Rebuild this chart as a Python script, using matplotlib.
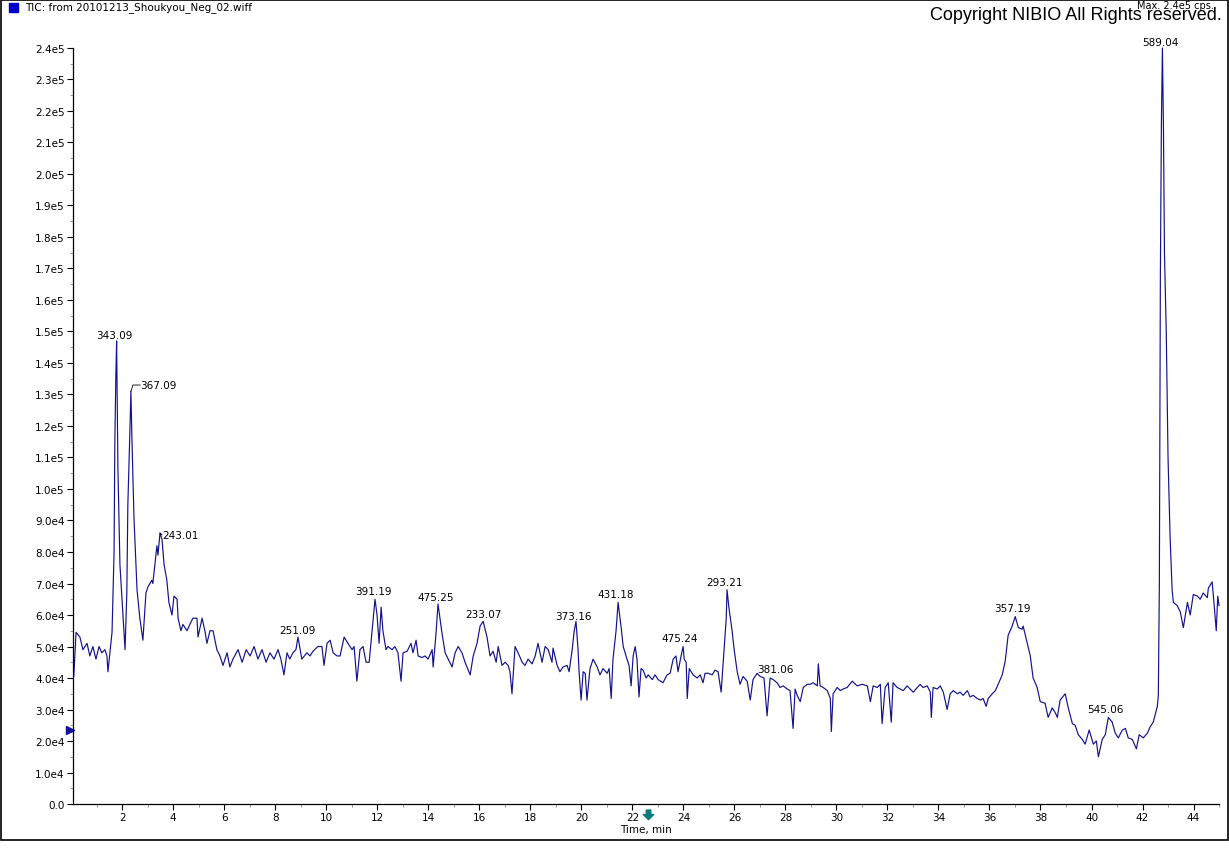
import numpy as np
import matplotlib
matplotlib.use("Agg")
import matplotlib.pyplot as plt
from matplotlib.patches import Rectangle
from matplotlib.path import Path
from matplotlib.transforms import blended_transform_factory

# -----------------------------
# TIC trace (time in min, intensity in 1e4 cps)
# -----------------------------
time_min = [
    0.10, 0.19, 0.34, 0.46, 0.62, 0.73, 0.85, 0.97, 1.09, 1.20, 1.32, 1.40, 1.44, 1.60,
    1.68, 1.71, 1.75, 1.78, 1.83, 1.91, 2.03, 2.11, 2.18, 2.22, 2.30, 2.34, 2.38, 2.46,
    2.58, 2.69, 2.81, 2.93, 3.01, 3.16, 3.20, 3.36, 3.40, 3.48, 3.56, 3.64, 3.75, 3.83,
    3.95, 4.03, 4.15, 4.19, 4.30, 4.38, 4.54, 4.65, 4.77, 4.93, 4.97, 5.13, 5.24, 5.32,
    5.44, 5.56, 5.71, 5.83, 5.95, 6.11, 6.22, 6.34, 6.54, 6.70, 6.86, 7.01, 7.17, 7.32,
    7.48, 7.64, 7.79, 7.95, 8.11, 8.22, 8.34, 8.46, 8.57, 8.69, 8.81, 8.89, 9.04, 9.24,
    9.36, 9.48, 9.67, 9.83, 9.91, 10.03, 10.15, 10.27, 10.42, 10.54, 10.70, 10.85, 11.01,
    11.09, 11.20, 11.32, 11.44, 11.56, 11.68, 11.79, 11.91, 11.99, 12.07, 12.15, 12.22,
    12.34, 12.42, 12.58, 12.69, 12.81, 12.93, 13.01, 13.17, 13.32, 13.40, 13.52, 13.60,
    13.75, 13.87, 13.99, 14.15, 14.19, 14.30, 14.38, 14.54, 14.66, 14.78, 14.93, 15.05,
    15.17, 15.32, 15.44, 15.64, 15.76, 15.91, 16.03, 16.15, 16.30, 16.42, 16.54, 16.66,
    16.74, 16.89, 17.01, 17.13, 17.20, 17.28, 17.40, 17.52, 17.68, 17.79, 17.91, 18.07,
    18.19, 18.30, 18.46, 18.58, 18.70, 18.85, 18.89, 19.05, 19.16, 19.28, 19.44, 19.52,
    19.64, 19.72, 19.79, 19.87, 19.91, 19.99, 20.07, 20.15, 20.22, 20.34, 20.46, 20.62,
    20.73, 20.85, 21.01, 21.09, 21.17, 21.24, 21.36, 21.44, 21.56, 21.64, 21.79, 21.87,
    21.95, 22.03, 22.11, 22.18, 22.26, 22.34, 22.42, 22.54, 22.62, 22.78, 22.89, 23.01,
    23.20, 23.36, 23.48, 23.60, 23.71, 23.79, 23.91, 23.99, 24.03, 24.11, 24.15, 24.23,
    24.38, 24.54, 24.66, 24.77, 24.85, 24.97, 25.13, 25.24, 25.36, 25.48, 25.56, 25.68,
    25.71, 25.79, 25.91, 25.99, 26.11, 26.22, 26.34, 26.50, 26.62, 26.73, 26.89, 27.01,
    27.16, 27.28, 27.40, 27.52, 27.67, 27.79, 27.91, 28.07, 28.18, 28.30, 28.38, 28.46,
    28.58, 28.70, 28.86, 28.97, 29.09, 29.25, 29.29, 29.36, 29.48, 29.64, 29.76, 29.80,
    29.87, 30.03, 30.15, 30.26, 30.42, 30.62, 30.81, 31.01, 31.21, 31.33, 31.44, 31.60,
    31.72, 31.79, 31.91, 32.03, 32.15, 32.22, 32.38, 32.50, 32.62, 32.77, 32.89, 33.01,
    33.17, 33.28, 33.40, 33.56, 33.68, 33.72, 33.79, 33.95, 34.07, 34.19, 34.34, 34.46,
    34.58, 34.74, 34.85, 34.97, 35.13, 35.24, 35.36, 35.52, 35.64, 35.75, 35.87, 35.95,
    36.11, 36.23, 36.34, 36.50, 36.62, 36.73, 36.89, 37.01, 37.13, 37.28, 37.32, 37.48,
    37.60, 37.71, 37.87, 37.99, 38.18, 38.30, 38.46, 38.58, 38.66, 38.77, 38.97, 39.09,
    39.25, 39.36, 39.48, 39.64, 39.75, 39.91, 40.07, 40.19, 40.27, 40.42, 40.54, 40.66,
    40.81, 40.93, 41.05, 41.21, 41.33, 41.44, 41.60, 41.76, 41.87, 42.03, 42.19, 42.30,
    42.42, 42.58, 42.62, 42.66, 42.70, 42.74, 42.78, 42.82, 42.86, 42.93, 43.00, 43.08,
    43.16, 43.21, 43.36, 43.48, 43.60, 43.76, 43.87, 43.99, 44.15, 44.26, 44.38, 44.54,
    44.58, 44.73, 44.81, 44.89, 44.95, 45.00,
]

intensity_e4 = [
    4.05, 5.45, 5.3, 4.9, 5.1, 4.7, 5.0, 4.6, 5.0, 4.8, 4.9, 4.7, 4.2, 5.45,
    8.0, 11.5, 13.6, 14.7, 10.7, 7.6, 6.0, 4.9, 6.7, 9.5, 11.8, 13.1, 11.6, 9.1,
    6.8, 5.9, 5.2, 6.7, 6.9, 7.1, 7.0, 8.2, 7.9, 8.6, 8.4, 7.6, 7.1, 6.4,
    6.0, 6.6, 6.5, 5.9, 5.5, 5.7, 5.5, 5.7, 5.9, 5.9, 5.3, 5.9, 5.5, 5.1,
    5.5, 5.5, 4.9, 4.7, 4.4, 4.8, 4.35, 4.6, 4.9, 4.5, 4.9, 4.7, 5.0, 4.6,
    4.9, 4.5, 4.8, 4.6, 4.9, 4.6, 4.1, 4.8, 4.6, 4.8, 4.9, 5.3, 4.6, 4.8,
    4.7, 4.85, 5.0, 5.0, 4.4, 5.1, 5.2, 4.8, 4.7, 4.7, 5.3, 5.1, 4.9,
    5.0, 3.9, 4.9, 5.0, 4.5, 4.5, 5.45, 6.5, 6.0, 5.1, 6.25, 5.5,
    4.9, 5.0, 4.9, 5.0, 4.8, 3.9, 4.8, 4.85, 5.1, 4.8, 5.2, 4.7,
    4.65, 4.7, 4.6, 4.9, 4.35, 5.4, 6.35, 5.4, 4.8, 4.6, 4.35, 4.8,
    5.0, 4.8, 4.5, 4.1, 4.7, 5.1, 5.65, 5.8, 5.3, 4.7, 4.85, 4.5,
    5.0, 4.4, 4.5, 4.4, 4.2, 3.5, 5.0, 4.8, 4.5, 4.4, 4.6, 4.45,
    4.7, 5.1, 4.5, 5.0, 4.9, 4.5, 4.95, 4.4, 4.2, 4.35, 4.4, 4.2,
    4.9, 5.5, 5.8, 4.9, 4.2, 3.3, 4.2, 4.15, 3.3, 4.3, 4.6, 4.35,
    4.1, 4.3, 4.15, 4.3, 3.35, 4.6, 5.5, 6.4, 5.6, 5.0, 4.6, 4.4,
    3.75, 4.7, 5.0, 4.6, 3.4, 4.3, 4.25, 4.0, 4.1, 3.95, 4.1, 3.95,
    3.85, 4.1, 4.15, 4.6, 4.7, 4.2, 4.7, 5.0, 4.6, 4.5, 3.35, 4.3,
    4.1, 4.0, 4.1, 3.85, 4.15, 4.15, 4.1, 4.25, 4.2, 3.55, 4.5, 5.9,
    6.8, 6.2, 5.5, 4.9, 4.2, 3.8, 4.05, 3.9, 3.3, 3.95, 4.15, 4.05,
    4.0, 2.8, 4.0, 3.95, 3.85, 3.7, 3.75, 3.65, 3.6, 2.4, 3.65, 3.45,
    3.25, 3.7, 3.8, 3.8, 3.85, 3.75, 4.45, 3.75, 3.7, 3.6, 3.35, 2.3,
    3.5, 3.7, 3.6, 3.65, 3.7, 3.9, 3.75, 3.8, 3.75, 3.25, 3.75, 3.7,
    3.8, 2.55, 3.7, 3.85, 2.6, 3.85, 3.7, 3.65, 3.6, 3.75, 3.65, 3.55,
    3.7, 3.8, 3.7, 3.75, 3.55, 2.75, 3.7, 3.65, 3.75, 3.55, 3.0, 3.5,
    3.6, 3.5, 3.55, 3.45, 3.6, 3.4, 3.45, 3.35, 3.3, 3.35, 3.1, 3.35,
    3.5, 3.6, 3.8, 4.1, 4.55, 5.35, 5.65, 5.95, 5.6, 5.55, 5.65, 5.1,
    4.7, 4.0, 3.7, 3.25, 3.2, 2.75, 3.05, 2.9, 2.75, 3.3, 3.5, 3.05,
    2.55, 2.5, 2.2, 2.05, 1.9, 2.35, 1.9, 2.0, 1.5, 2.05, 2.2, 2.75,
    2.6, 2.25, 2.1, 2.35, 2.4, 2.1, 2.05, 1.75, 2.2, 2.1, 2.25, 2.45,
    2.6, 3.1, 3.45, 7.0, 16.8, 21.6, 24.0, 21.5, 17.5, 15.0, 11.0, 8.5,
    6.8, 6.4, 6.3, 6.1, 5.6, 6.4, 6.0, 6.65, 6.6, 6.5, 6.7, 6.55,
    6.85, 7.05, 6.3, 5.5, 6.6, 6.3,
]

# -----------------------------
# Peak labels (m/z) and where they sit
# -----------------------------
peak_labels = ["343.09", "251.09", "391.19", "475.25", "233.07", "373.16", "431.18",
               "475.24", "293.21", "381.06", "357.19", "545.06", "589.04"]
label_time = [1.71, 8.85, 11.83, 14.30, 16.15, 19.67, 21.36, 23.87, 25.60, 27.59,
              36.89, 40.54, 42.70]
label_e4 = [14.9, 5.52, 6.76, 6.57, 6.03, 5.97, 6.67, 5.27, 7.05, 4.29, 6.22, 3.02, 24.2]

# labels with a small leader line
leader_labels = ["367.09", "243.01"]
leader_peak_time = [2.34, 3.48]
leader_peak_e4 = [13.1, 8.6]
leader_text_time = [2.72, 3.56]
leader_text_e4 = [13.3, 8.55]

y_ticks_e4 = list(range(0, 25))
x_major = list(range(2, 45, 2))
x_minor = list(range(1, 46, 2))

line_color = "#12128c"
fs = 7.5

# -----------------------------
# Figure
# -----------------------------
fig = plt.figure(figsize=(12.29, 8.62), dpi=100)
fig.patch.set_facecolor("white")
ax = fig.add_axes([0.0594, 0.0661, 0.9325, 0.8771])

t = np.array(time_min)
y = np.array(intensity_e4) * 1e4
ax.plot(t, y, color=line_color, lw=0.85, clip_on=False)

for lab, lt, lv in zip(peak_labels, label_time, label_e4):
    ax.text(lt, lv * 1e4, lab, fontsize=fs, ha="center", va="center", color="black")

for lab, pt, pv, lt, lv in zip(leader_labels, leader_peak_time, leader_peak_e4,
                               leader_text_time, leader_text_e4):
    ax.plot([pt, pt + 0.08, lt - 0.02], [pv * 1e4, lv * 1e4, lv * 1e4],
            color="black", lw=0.6)
    ax.text(lt, lv * 1e4, lab, fontsize=fs, ha="left", va="center", color="black")

ax.set_xlim(0.07, 45.0)
ax.set_ylim(0, 2.4e5)

ax.set_yticks([v * 1e4 for v in y_ticks_e4])
ylabels = []
for v in y_ticks_e4:
    if v == 0:
        ylabels.append("0.0")
    elif v < 10:
        ylabels.append(f"{v:.1f}e4")
    else:
        ylabels.append(f"{v / 10:.1f}e5")
ax.set_yticklabels(ylabels, fontsize=fs)
ax.set_yticks([(v + 0.5) * 1e4 for v in y_ticks_e4[:-1]], minor=True)

ax.set_xticks(x_major)
ax.set_xticklabels([str(v) for v in x_major], fontsize=fs)
ax.set_xticks(x_minor, minor=True)

ax.tick_params(axis="both", which="major", length=4, width=0.8, color="black", pad=2)
ax.tick_params(axis="both", which="minor", length=2, width=0.6, color="#888888")
for side in ["top", "right"]:
    ax.spines[side].set_visible(False)
for side in ["left", "bottom"]:
    ax.spines[side].set_linewidth(0.9)

ax.set_xlabel("Time, min", fontsize=fs, labelpad=1)

# start marker left of the y axis and cursor arrow under the time axis
ytrans = blended_transform_factory(ax.transAxes, ax.transData)
ax.plot([-0.003], [2.35e4], marker=">", color="#1010a0", ms=5.5, clip_on=False,
        transform=ytrans)
arrow_marker = Path([(-0.3, 0.6), (0.3, 0.6), (0.3, 0.0), (0.7, 0.0), (0.0, -0.7),
                     (-0.7, 0.0), (-0.3, 0.0), (-0.3, 0.6)])
ax.plot([22.6], [-0.013], marker=arrow_marker, color="#0a7a7a", ms=7.5,
        clip_on=False, transform=ax.get_xaxis_transform())

# -----------------------------
# Header texts and frame
# -----------------------------
fig.patches.append(Rectangle((9 / 1229, 1 - 13 / 862), 9 / 1229, 9 / 862,
                             transform=fig.transFigure, color="#0000cc"))
fig.text(25 / 1229, 1 - 8 / 862, "TIC: from 20101213_Shoukyou_Neg_02.wiff",
         fontsize=fs, ha="left", va="center")
fig.text(1137 / 1229, 1 - 6 / 862, "Max. 2.4e5 cps.", fontsize=7, ha="left", va="center")
fig.text(1222 / 1229, 1 - 15 / 862, "Copyright NIBIO All Rights reserved.",
         fontsize=13, family="Liberation Sans", ha="right", va="center")
fig.patches.append(Rectangle((0.5 / 1229, 1 - 841 / 862), 1227.5 / 1229, 840.5 / 862,
                             transform=fig.transFigure, fill=False, ec="black", lw=1.2))

plt.savefig("out.png", dpi=100)
